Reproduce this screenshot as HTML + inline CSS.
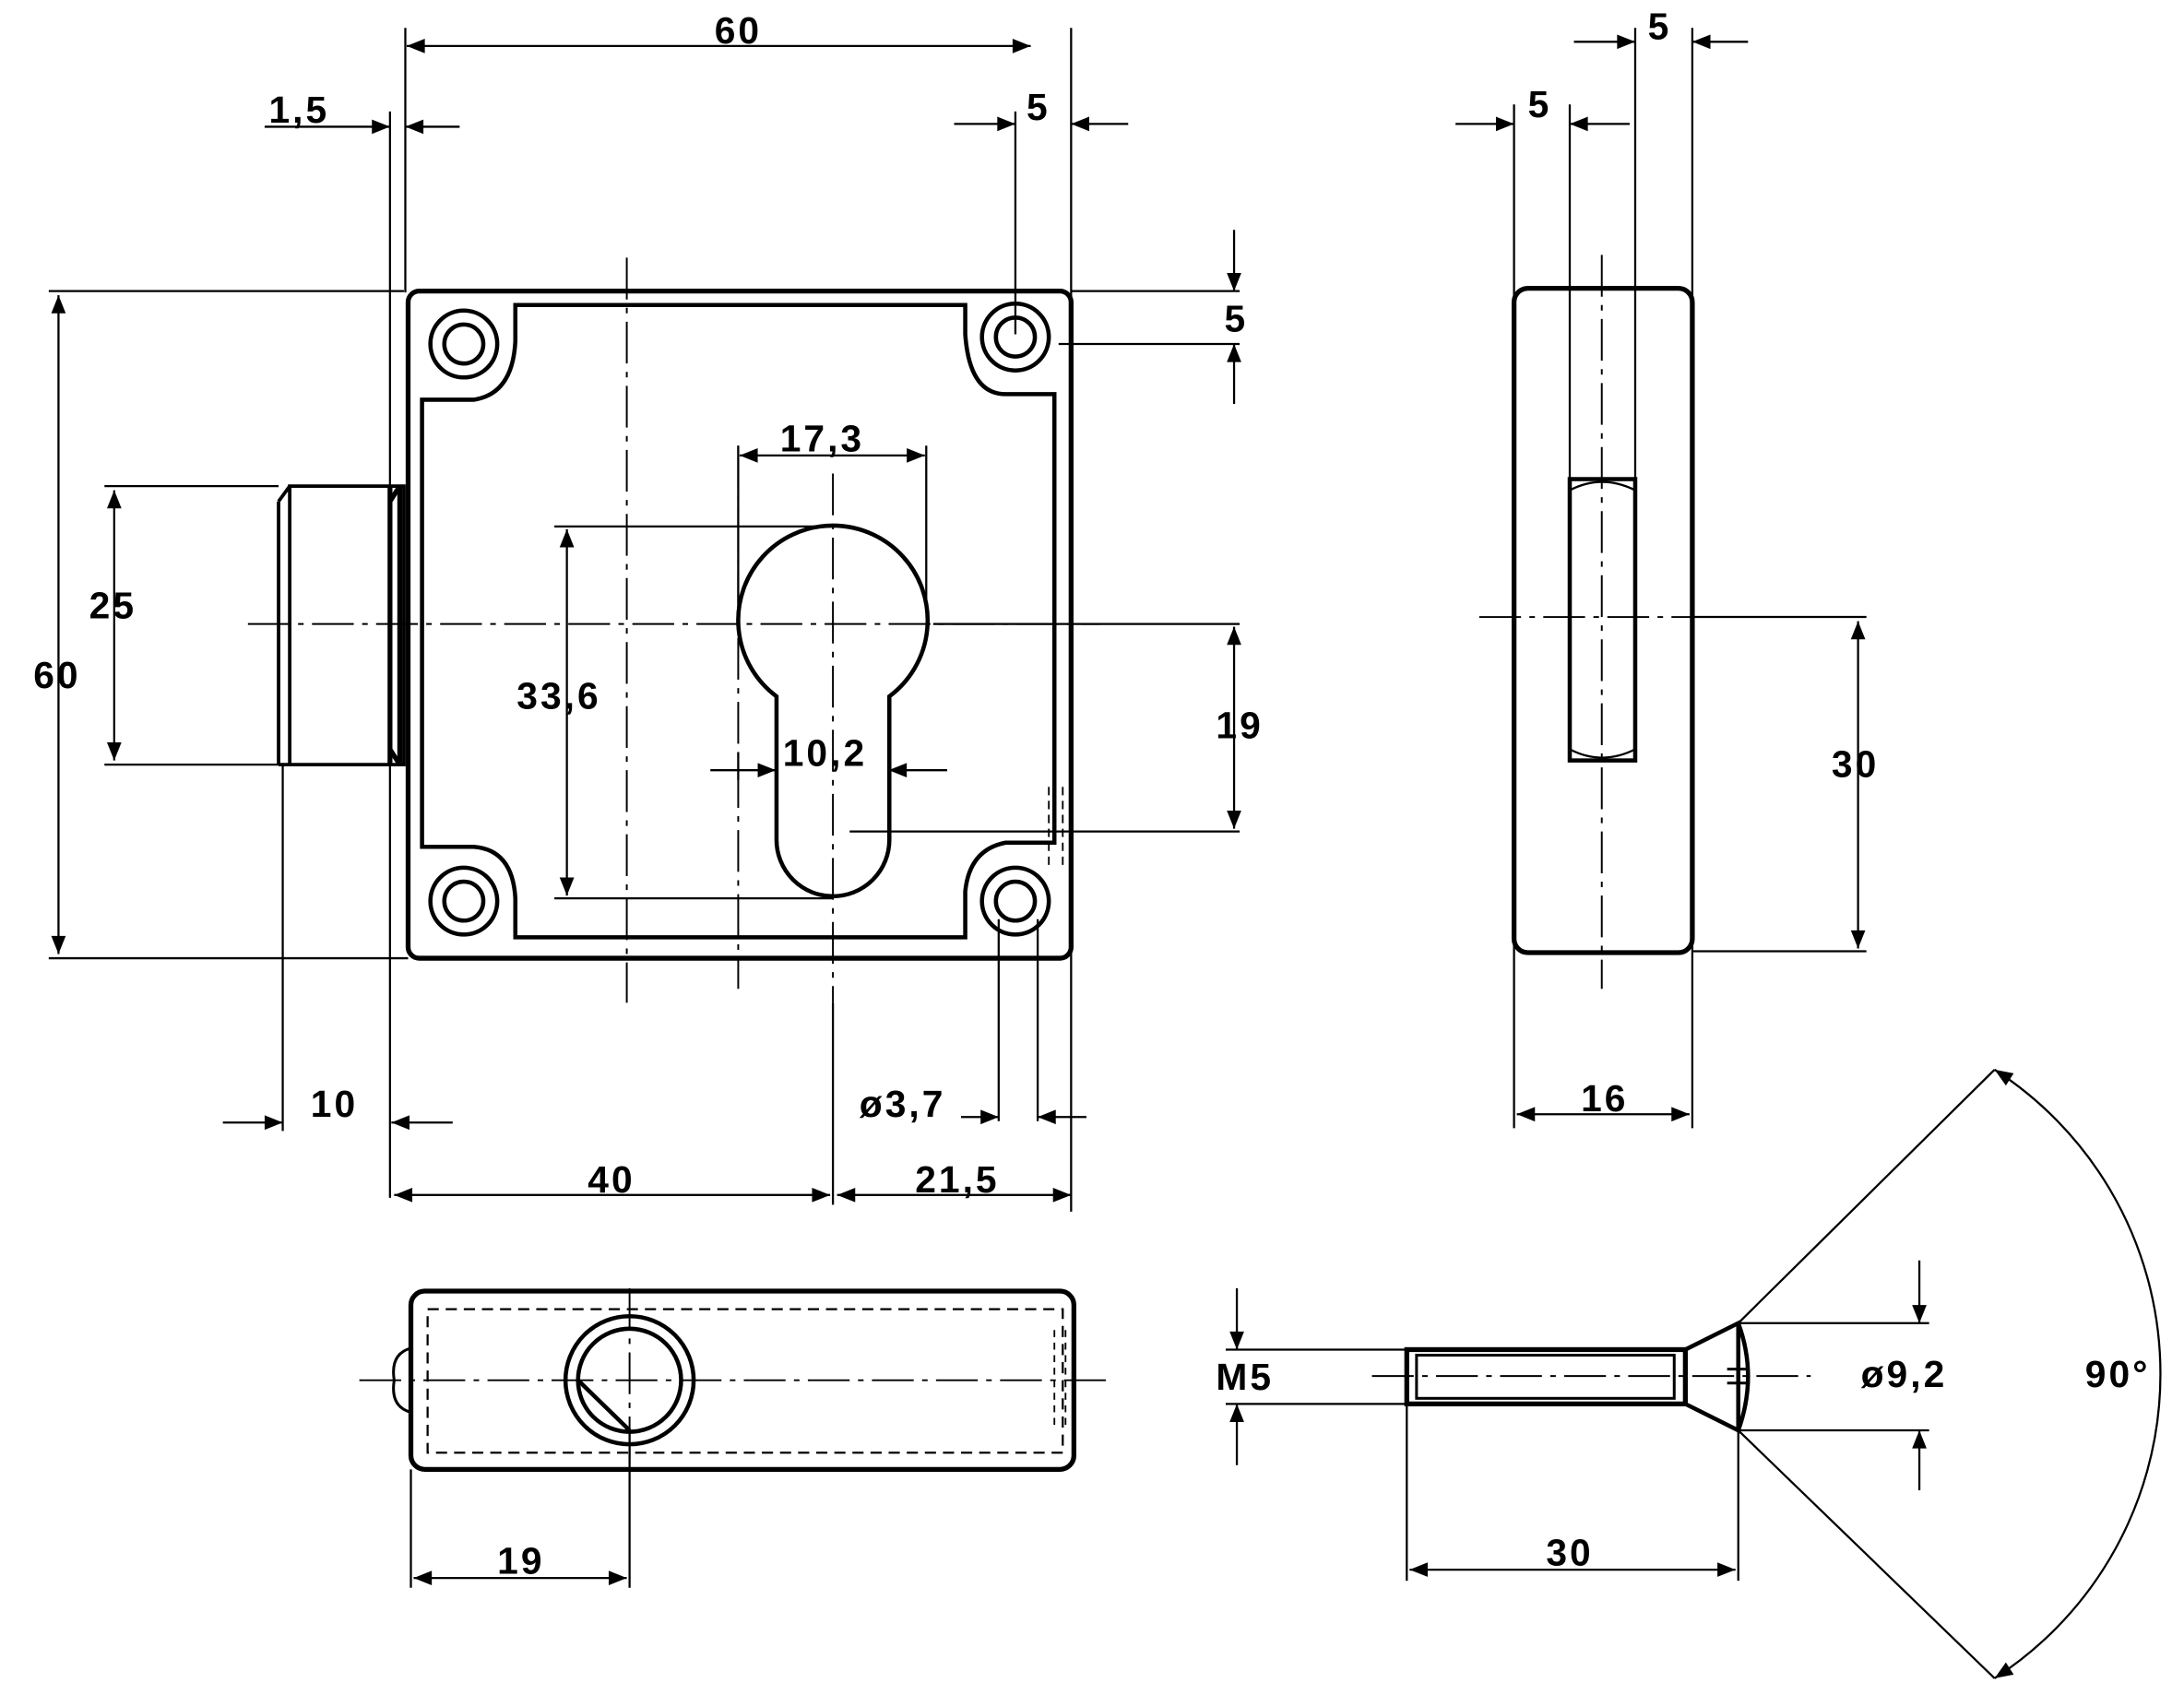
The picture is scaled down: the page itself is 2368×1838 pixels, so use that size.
<!DOCTYPE html>
<html><head><style>html,body{margin:0;padding:0;background:#fff}svg{display:block}
text{font-family:"Liberation Sans",sans-serif;font-weight:bold;font-size:27px;fill:#000;letter-spacing:2px}</style></head>
<body>
<svg width="2368" height="1838" viewBox="0 0 1568 1217" preserveAspectRatio="none" xmlns="http://www.w3.org/2000/svg">
<defs>
<marker id="a" viewBox="0 0 10 10" refX="10" refY="5" markerWidth="32" markerHeight="13" markerUnits="userSpaceOnUse" orient="auto-start-reverse"><path d="M0,1 L10,5 L0,9z" fill="#000"/></marker>
</defs>
<g fill="none" stroke="#000">
<rect x="293" y="209" width="476" height="479" rx="8" stroke-width="3.5"/>
<path d="M370,219 H693 V240 Q696,283 722,283 H757 V605 H722 Q696,610 693,640 V673 H370 V645 Q368,610 340,608 H303 V287 H340 Q368,283 370,245 Z" stroke-width="3"/>
<g stroke-width="3">
<circle cx="333" cy="247" r="24"/><circle cx="333" cy="247" r="14"/>
<circle cx="729" cy="242" r="24"/><circle cx="729" cy="242" r="14"/>
<circle cx="333" cy="647" r="24"/><circle cx="333" cy="647" r="14"/>
<circle cx="729" cy="647" r="24"/><circle cx="729" cy="647" r="14"/>
</g>
<path d="M557.5,500 A68,68 0 1 1 638.5,500 V603 A40.5,40.5 0 0 1 557.5,603 Z" stroke-width="3"/>
<path d="M208,349 H290 V549 H208 Z M200,360 L208,349 M200,360 V549 M200,549 L208,549" stroke-width="2.5"/>
<path d="M280,349 V549 M287,349 V549 M280,360 L287,349 M280,538 L287,549" stroke-width="3.5"/>
<g stroke-width="1.3" stroke-dasharray="30,6,4,6">
<path d="M178,448 H790"/><path d="M598,340 V720"/><path d="M450,185 V720"/><path d="M530,320 V710"/>
<path d="M1062,443 H1245"/><path d="M1150,183 V710"/>
<path d="M258,991 H795"/><path d="M452,925 V1060"/>
<path d="M985,988 H1300"/>
</g>
<path d="M753,565 V625 M763,565 V625" stroke-width="1.2" stroke-dasharray="6,4"/>
<rect x="1087" y="207" width="128" height="477" rx="10" stroke-width="3.5"/>
<rect x="1127" y="344" width="47" height="202" stroke-width="3"/>
<path d="M1127,352 Q1150,340 1174,352 M1127,538 Q1150,550 1174,538" stroke-width="1.5"/>
<rect x="295" y="927" width="476" height="128" rx="10" stroke-width="3.5"/>
<rect x="307" y="940" width="456" height="103" stroke-width="1.5" stroke-dasharray="8,5"/>
<circle cx="452" cy="991" r="46" stroke-width="3"/><circle cx="452" cy="991" r="37" stroke-width="3"/>
<path d="M415,991 L452,1027" stroke-width="3"/>
<path d="M295,968 Q280,972 283,991 Q280,1010 295,1014" stroke-width="2"/>
<path d="M757,955 V1025 M765,955 V1025" stroke-width="1.2" stroke-dasharray="5,4"/>
<rect x="1010" y="969" width="200" height="39" stroke-width="3.5"/>
<rect x="1017" y="973" width="185" height="31" stroke-width="2"/>
<path d="M1210,969 L1248,950 V1027 L1210,1008" stroke-width="3"/>
<path d="M1248,950 Q1262,988 1248,1027" stroke-width="3"/>
<path d="M1240,983 h14 M1240,993 h14" stroke-width="2"/>
<g stroke-width="1.5">
<path d="M291,20 V210 M769,20 V210 M280,80 V860 M729,80 V240 M769,210 V870"/>
<path d="M35,209 H290 M35,688 H293 M75,349 H200 M75,549 H200 M769,209 H890 M760,247 H890 M670,448 H890 M610,597 H890 M398,378 H600 M398,645 H598"/>
<path d="M530,320 V450 M665,320 V440 M530,540 V560 M638,540 V560"/>
<path d="M203,549 V812 M717,660 V805 M745,660 V805 M598,720 V865"/>
<path d="M1087,75 V810 M1127,75 V344 M1174,20 V344 M1215,20 V810 M1215,443 H1340 M1215,683 H1340"/>
<path d="M295,1055 V1140 M452,1027 V1140 M1010,1008 V1135 M1248,1027 V1135"/>
<path d="M880,969 H1010 M880,1008 H1010 M1248,950 H1385 M1248,1027 H1385"/>
<path d="M1248,950 L1432,768 M1248,1027 L1432,1205"/>
</g>
<g stroke-width="1.5" marker-end="url(#a)">
<path d="M740,33 H292" marker-start="url(#a)"/>
<path d="M190,91 H280"/><path d="M330,91 H291"/>
<path d="M685,89 H729"/><path d="M810,89 H769"/>
<path d="M886,165 V209"/><path d="M886,290 V247"/>
<path d="M42,212 V685" marker-start="url(#a)"/>
<path d="M82,352 V546" marker-start="url(#a)"/>
<path d="M531,327 H664" marker-start="url(#a)"/>
<path d="M407,380 V643" marker-start="url(#a)"/>
<path d="M510,553 H557"/><path d="M680,553 H638"/>
<path d="M886,450 V595" marker-start="url(#a)"/>
<path d="M160,806 H203"/><path d="M325,806 H281"/>
<path d="M690,802 H717"/><path d="M780,802 H745"/>
<path d="M283,858 H596" marker-start="url(#a)"/>
<path d="M601,858 H769" marker-start="url(#a)"/>
<path d="M1130,30 H1174"/><path d="M1255,30 H1215"/>
<path d="M1045,89 H1087"/><path d="M1170,89 H1127"/>
<path d="M1334,446 V681" marker-start="url(#a)"/>
<path d="M1089,800 H1213" marker-start="url(#a)"/>
<path d="M297,1133 H450" marker-start="url(#a)"/>
<path d="M1012,1127 H1246" marker-start="url(#a)"/>
<path d="M888,925 V969"/><path d="M888,1052 V1008"/>
<path d="M1378,905 V950"/><path d="M1378,1070 V1027"/>
<path d="M1432,768 A260,260 0 0 1 1432,1205" marker-start="url(#a)"/>
</g>
</g>
<text x="513" y="31">60</text>
<text x="193" y="88">1,5</text>
<text x="737" y="86">5</text>
<text x="879" y="238">5</text>
<text x="560" y="324">17,3</text>
<text x="64" y="444">25</text>
<text x="24" y="494">60</text>
<text x="371" y="509">33,6</text>
<text x="562" y="550">10,2</text>
<text x="873" y="530">19</text>
<text x="223" y="802">10</text>
<text x="617" y="802">ø3,7</text>
<text x="422" y="856">40</text>
<text x="657" y="856">21,5</text>
<text x="1183" y="28">5</text>
<text x="1097" y="84">5</text>
<text x="1315" y="558">30</text>
<text x="1135" y="798">16</text>
<text x="357" y="1130">19</text>
<text x="873" y="998">M5</text>
<text x="1336" y="996">ø9,2</text>
<text x="1110" y="1124">30</text>
<text x="1497" y="996">90°</text>
</svg>
</body></html>
